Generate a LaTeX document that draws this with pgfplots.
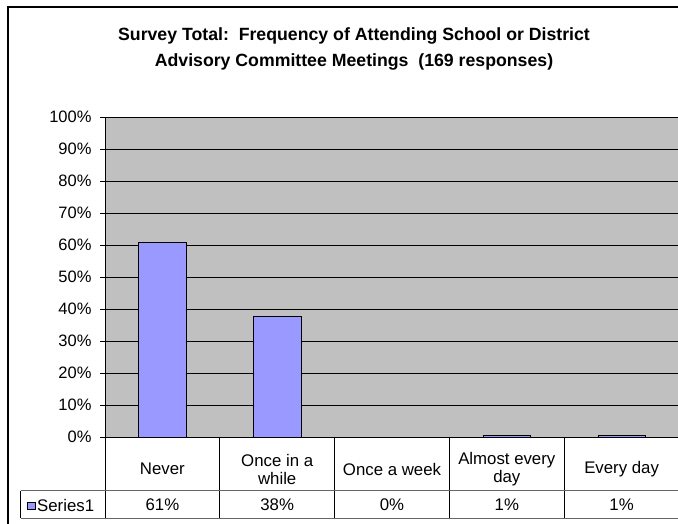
\documentclass[border=0pt]{standalone}
\usepackage{fontspec}
\setmainfont{Liberation Sans}
\usepackage{pgfplots}
\pgfplotsset{compat=1.18}
\definecolor{plotgray}{HTML}{C0C0C0}
\definecolor{barblue}{HTML}{9999FF}
\newcommand{\bodyfont}{\fontsize{16.8bp}{19bp}\selectfont}
\pgfplotsset{keylegend/.style={legend image code/.code={\draw[##1, line width=0.6bp] (0bp,-3.6bp) rectangle (7.4bp,3.6bp);}}}
\begin{document}
\begin{tikzpicture}[x=1bp,y=1bp,font=\bodyfont]
\clip (0,0) rectangle (678,524);
\fill[white] (0,0) rectangle (678,524);
% outer chart frame
\draw[line width=1.2bp] (8,-2) -- (8,517) -- (690,517);
% title
\node[align=center, font=\bfseries\fontsize{17.7bp}{26bp}\selectfont] at (354,475)
  {Survey Total:\ \ Frequency of Attending School or District\\Advisory Committee Meetings\ \ (169 responses)};
\begin{axis}[
  at={(105bp,86.7bp)}, anchor=south west,
  scale only axis,
  width=574bp, height=320bp,
  xmin=0, xmax=5, ymin=0, ymax=100,
  axis background/.style={fill=plotgray},
  axis line style={black, line width=0.8bp},
  ybar, bar width=47.4bp,
  ytick={0,10,...,100},
  yticklabel={\pgfmathprintnumber{\tick}\%},
  /pgf/number format/assume math mode=true,
  ymajorgrids, grid style={black, line width=0.8bp},
  tick align=outside, major tick length=5bp,
  ytick pos=left,
  y tick style={black, line width=0.8bp},
  xtick={0.5,1.5,2.5,3.5,4.5},
  xticklabels={Never,{Once in a\\while},Once a week,{Almost every\\day},Every day},
  x tick style={draw=none},
  xtick pos=bottom,
  xticklabel style={align=center, anchor=center, yshift=-26.7bp, font=\fontsize{16.8bp}{18bp}\selectfont},
  yticklabel style={font=\fontsize{16.5bp}{19bp}\selectfont, xshift=-5bp},
  clip=false,
  legend style={at={(axis description cs:-0.1359,-0.2140)}, anchor=west, draw=none, fill=none,
    inner sep=0pt, font=\bodyfont},
  legend cell align=left,
]
\addplot[fill=barblue, draw=black, line width=0.8bp, keylegend]
  coordinates {(0.5,60.9) (1.5,37.9) (2.5,0) (3.5,0.6) (4.5,0.6)};
\addlegendentry{Series1}
\node at (axis cs:0.5,-21) {61\%};
\node at (axis cs:1.5,-21) {38\%};
\node at (axis cs:2.5,-21) {0\%};
\node at (axis cs:3.5,-21) {1\%};
\node at (axis cs:4.5,-21) {1\%};
\end{axis}
% data table lines
\foreach \xx in {105,219.8,334.6,449.4,564.2,679}
  \draw[black, line width=0.8bp] (\xx,86.7) -- (\xx,5.7);
\draw[black, line width=0.8bp] (20.7,33.3) -- (20.7,5.7);
\draw[black!60, line width=1bp] (20.7,33.3) -- (690,33.3);
\draw[black!60, line width=1bp] (20.7,5.7) -- (690,5.7);
\draw[black, line width=0.8bp] (105,86.7) -- (690,86.7);
\end{tikzpicture}
\end{document}
